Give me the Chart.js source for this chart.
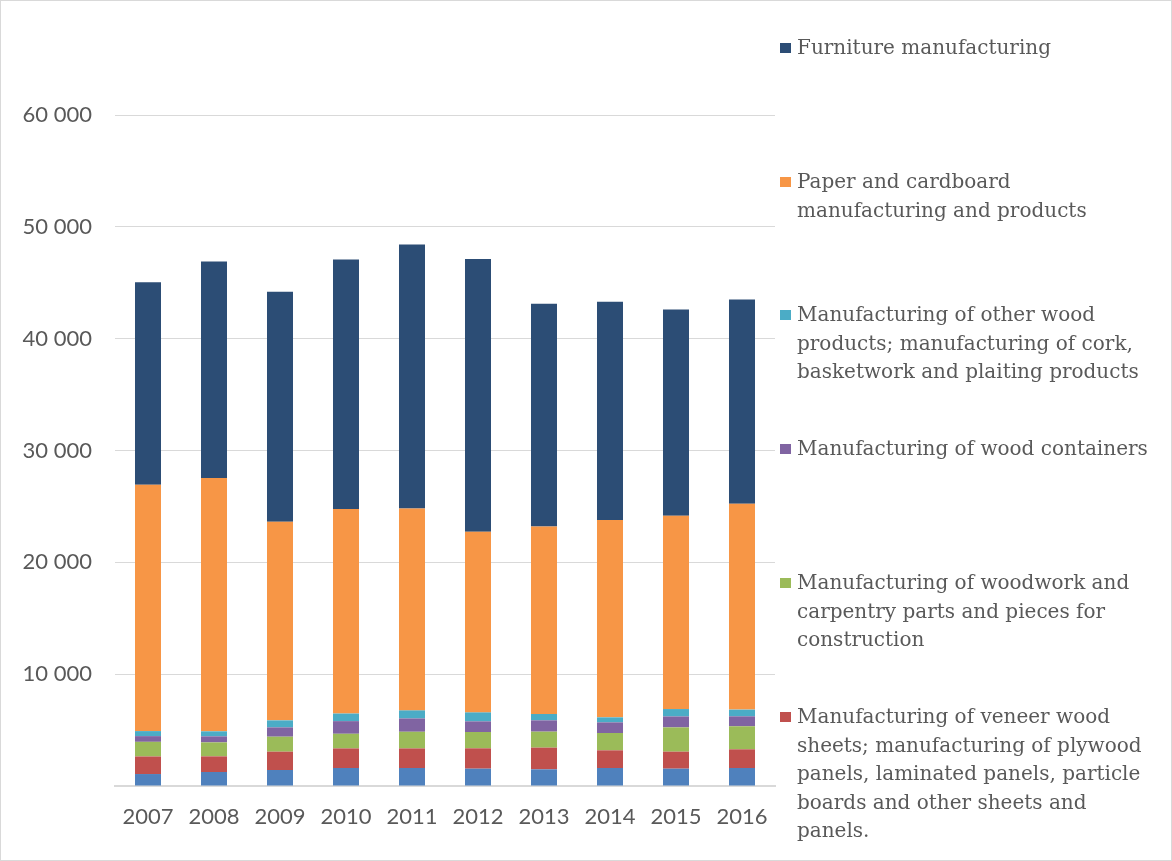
<!DOCTYPE html>
<html>
<head>
<meta charset="utf-8">
<script src="https://cdn.jsdelivr.net/npm/chart.js@4"></script>
<style>
  body { margin: 0; background: #fff; }
  #wrap { position: relative; width: 1172px; height: 861px; }
  #frame { position: absolute; left: 0; top: 0; width: 1170px; height: 859px; border: 1px solid #d9d9d9; pointer-events: none; }
  .item { position: absolute; left: 778px; font-family: 'DejaVu Serif', serif; font-size: 20px; line-height: 28.5px; color: #595959; padding-left: 19px; white-space: nowrap; }
  .item i { position: absolute; left: 2px; top: 10px; width: 11px; height: 10px; }
</style>
</head>
<body>
<div id="wrap">
  <canvas id="myChart" width="1172" height="861"></canvas>
  <div id="legend"></div>
  <div id="frame"></div>
</div>
<script>
const years = ['2007', '2008', '2009', '2010', '2011', '2012', '2013', '2014', '2015', '2016']

// bottom to top
const sawmilling = [1070, 1250, 1430, 1610, 1610, 1550, 1490, 1610, 1550, 1610]
const veneer = [1570, 1400, 1640, 1750, 1750, 1820, 1940, 1580, 1520, 1670]
const woodwork = [1310, 1250, 1340, 1310, 1490, 1460, 1430, 1550, 2170, 2060]
const containers = [510, 540, 830, 1130, 1190, 950, 1010, 950, 980, 890]
const otherWood = [450, 450, 630, 680, 720, 800, 570, 450, 660, 600]
const paper = [22030, 22660, 17770, 18280, 18050, 16160, 16760, 17650, 17290, 18400]
const furniture = [18100, 19350, 20550, 22330, 23610, 24390, 19920, 19500, 18430, 18270]

const yTicks = [10000, 20000, 30000, 40000, 50000, 60000]

const series = [
  { label: 'Sawmilling and planing of wood', data: sawmilling, color: '#4F81BD', legend: null },
  { label: 'Manufacturing of veneer wood sheets; manufacturing of plywood panels, laminated panels, particle boards and other sheets and panels.', data: veneer, color: '#C0504D',
    legend: { top: 702, lines: ['Manufacturing of veneer wood', 'sheets; manufacturing of plywood', 'panels, laminated panels, particle', 'boards and other sheets and', 'panels.'] } },
  { label: 'Manufacturing of woodwork and carpentry parts and pieces for construction', data: woodwork, color: '#9BBB59',
    legend: { top: 568, lines: ['Manufacturing of woodwork and', 'carpentry parts and pieces for', 'construction'] } },
  { label: 'Manufacturing of wood containers', data: containers, color: '#8064A2',
    legend: { top: 434, lines: ['Manufacturing of wood containers'] } },
  { label: 'Manufacturing of other wood products; manufacturing of cork, basketwork and plaiting products', data: otherWood, color: '#4BACC6',
    legend: { top: 300, lines: ['Manufacturing of other wood', 'products; manufacturing of cork,', 'basketwork and plaiting products'] } },
  { label: 'Paper and cardboard manufacturing and products', data: paper, color: '#F79646',
    legend: { top: 167, lines: ['Paper and cardboard', 'manufacturing and products'] } },
  { label: 'Furniture manufacturing', data: furniture, color: '#2C4D75',
    legend: { top: 33, lines: ['Furniture manufacturing'] } }
]

// Build the legend as real text on the right
const legendDiv = document.getElementById('legend')
series.forEach(s => {
  if (!s.legend) return
  const item = document.createElement('div')
  item.className = 'item'
  item.style.top = s.legend.top + 'px'
  const mark = document.createElement('i')
  mark.style.background = s.color
  item.appendChild(mark)
  s.legend.lines.forEach((line, i) => {
    if (i > 0) item.appendChild(document.createElement('br'))
    item.appendChild(document.createTextNode(line))
  })
  legendDiv.appendChild(item)
})

const fmt = v => String(v).replace(/\B(?=(\d{3})+(?!\d))/g, ' ')

const config = {
  type: 'bar',
  data: {
    labels: years,
    datasets: series.map(s => ({
      label: s.label,
      data: s.data,
      backgroundColor: s.color,
      borderWidth: 0,
      categoryPercentage: 1,
      barPercentage: 0.394
    }))
  },
  options: {
    responsive: false,
    animation: false,
    layout: { padding: { top: 115, right: 397, bottom: 0, left: 0 } },
    scales: {
      x: {
        stacked: true,
        grid: { display: false, drawTicks: false },
        border: { color: '#d9d9d9', width: 2 },
        ticks: {
          padding: 18,
          color: '#595959',
          font: { family: 'Lato, sans-serif', size: 22 }
        },
        afterFit: scale => { scale.height = 75 }
      },
      y: {
        stacked: true,
        min: 0,
        max: 60000,
        afterBuildTicks: scale => { scale.ticks = [0].concat(yTicks).map(v => ({ value: v })) },
        grid: { color: '#d9d9d9', lineWidth: 1, drawTicks: false },
        border: { display: false },
        ticks: {
          padding: 23,
          color: '#595959',
          font: { family: 'Lato, sans-serif', size: 22 },
          callback: v => (v === 0 ? '' : fmt(v))
        },
        afterFit: scale => { scale.width = 115 }
      }
    },
    plugins: {
      legend: { display: false },
      tooltip: { enabled: false }
    }
  }
}

const ctx = document.getElementById('myChart').getContext('2d')
const myChart = new Chart(ctx, config)
</script>
</body>
</html>
